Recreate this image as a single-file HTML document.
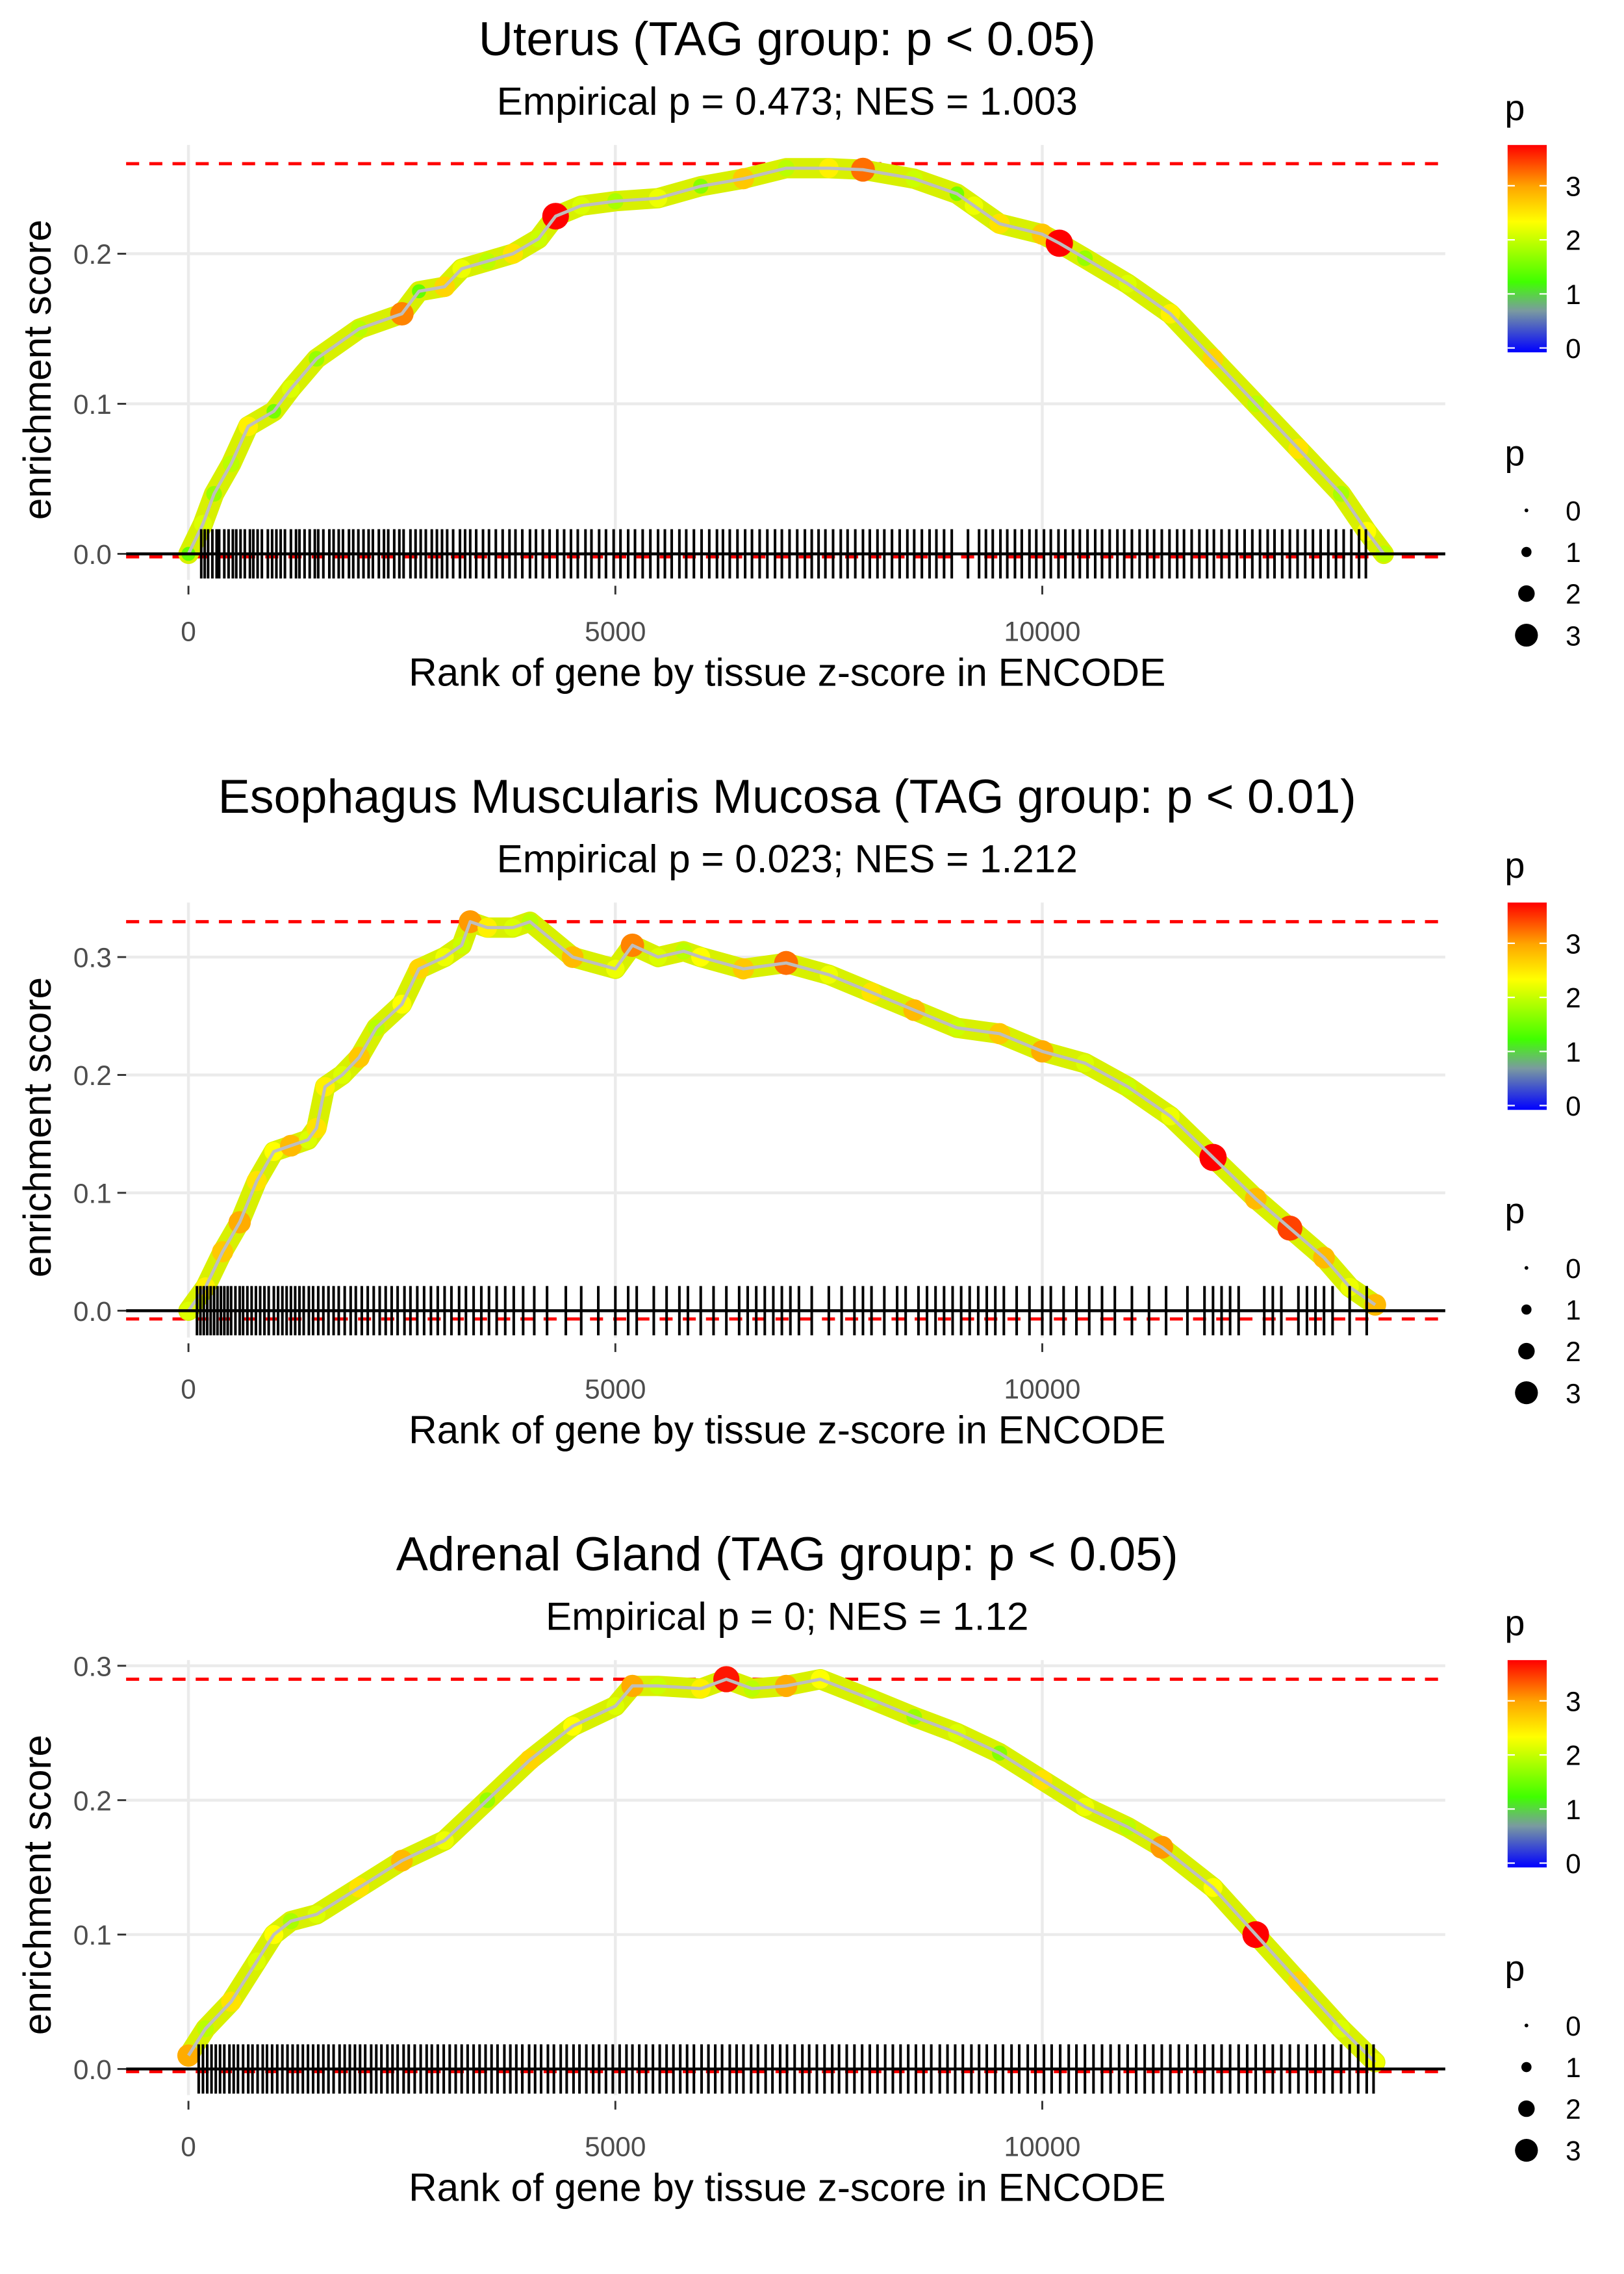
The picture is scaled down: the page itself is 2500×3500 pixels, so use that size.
<!DOCTYPE html>
<html><head><meta charset="utf-8">
<style>
html,body{margin:0;padding:0;background:#fff;}
svg{display:block;font-family:"Liberation Sans",sans-serif;}
</style></head>
<body>
<svg id="chart" width="2500" height="3500" viewBox="0 0 1120.3 1568.4" xmlns="http://www.w3.org/2000/svg">
<defs>
<linearGradient id="pgrad" x1="0" y1="1" x2="0" y2="0">
<stop offset="0" stop-color="#0000ff"/>
<stop offset="0.2" stop-color="#7a9aa0"/>
<stop offset="0.34" stop-color="#40ff00"/>
<stop offset="0.63" stop-color="#ffff00"/>
<stop offset="0.8" stop-color="#ffa500"/>
<stop offset="1" stop-color="#ff0000"/>
</linearGradient>
</defs>
</svg>
<script>
// ---------- data ----------
const titles = ["Uterus (TAG group: p < 0.05)","Esophagus Muscularis Mucosa (TAG group: p < 0.01)","Adrenal Gland (TAG group: p < 0.05)"];
const subtitles = ["Empirical p = 0.473; NES = 1.003","Empirical p = 0.023; NES = 1.212","Empirical p = 0; NES = 1.12"];
const xTicks = [0,5000,10000];
const yTicks1 = [0,0.1,0.2];
const yTicks2 = [0,0.1,0.2,0.3];
const yTicks3 = [0,0.1,0.2,0.3];
const esMax = [0.26,0.33,0.29];
const esMin = [-0.002,-0.007,-0.002];

const rank1 = [0,170,300,500,700,1000,1200,1500,2000,2500,2700,3000,3200,3500,3800,4100,4300,4600,5000,5500,6000,6500,7000,7500,7900,8500,9000,9200,9500,10000,10200,10500,11000,11500,12000,12500,13000,13500,13800,14000];
const es1   = [0,0.02,0.04,0.06,0.085,0.095,0.11,0.13,0.15,0.16,0.175,0.178,0.19,0.195,0.2,0.21,0.225,0.232,0.235,0.237,0.245,0.25,0.257,0.257,0.256,0.25,0.24,0.232,0.22,0.213,0.207,0.197,0.18,0.16,0.13,0.1,0.07,0.04,0.015,0];
const p1    = [1.5,2.2,1.8,2.0,2.5,1.6,2.2,1.8,2.0,3.2,1.5,2.7,2.3,2.0,2.6,2.1,3.8,2.2,1.9,2.3,1.7,2.8,2.0,2.5,3.3,2.1,1.6,2.3,2.6,2.8,3.9,1.8,2.2,2.5,2.7,2.0,2.6,1.9,2.4,2.0];

const rank2 = [0,200,400,600,800,1000,1200,1400,1500,1600,1800,2000,2200,2500,2700,3000,3200,3300,3500,3800,4000,4500,5000,5200,5500,5800,6000,6500,7000,7500,8000,8500,9000,9500,10000,10500,11000,11500,12000,12500,12900,13300,13600,13900];
const es2   = [0,0.02,0.05,0.075,0.11,0.135,0.14,0.145,0.155,0.19,0.2,0.215,0.24,0.26,0.29,0.3,0.31,0.33,0.325,0.325,0.33,0.3,0.29,0.31,0.3,0.305,0.3,0.29,0.295,0.285,0.27,0.255,0.24,0.235,0.22,0.21,0.19,0.165,0.13,0.095,0.07,0.045,0.02,0.005];
const p2    = [2.2,2.5,2.8,3.0,2.6,2.4,2.9,2.2,2.6,2.5,2.2,2.8,2.0,2.4,2.7,2.3,2.1,3.1,2.5,2.2,2.0,2.9,2.3,3.2,2.2,2.0,2.4,2.8,3.3,2.3,2.6,2.9,2.1,2.8,3.0,2.2,2.1,2.3,3.9,2.9,3.5,2.9,2.3,2.9];

const rank3 = [0,200,500,800,1000,1200,1500,2000,2500,3000,3500,4000,4500,5000,5200,5500,6000,6300,6600,7000,7400,8000,8500,9000,9500,10000,10500,11000,11400,12000,12500,13000,13500,13900];
const es3   = [0.01,0.03,0.05,0.08,0.1,0.11,0.115,0.135,0.155,0.17,0.2,0.23,0.255,0.27,0.285,0.285,0.283,0.29,0.283,0.285,0.29,0.275,0.262,0.25,0.235,0.215,0.195,0.18,0.165,0.135,0.1,0.065,0.03,0.005];
const p3    = [3.0,2.0,2.6,2.2,2.4,1.9,2.2,2.6,2.9,2.3,1.8,2.7,2.4,2.2,3.0,2.1,2.5,3.7,2.0,3.0,2.4,2.1,1.8,2.2,1.7,2.6,2.3,2.0,3.1,2.4,3.8,2.7,2.2,2.3];

const hits1 = [150,190,230,280,330,360,420,470,520,560,610,660,720,760,810,860,930,980,1030,1080,1130,1200,1260,1300,1360,1420,1480,1520,1580,1650,1700,1760,1810,1880,1930,1990,2050,2110,2160,2230,2290,2340,2410,2470,2520,2600,2660,2720,2780,2850,2910,2970,3030,3100,3180,3240,3300,3370,3450,3520,3600,3680,3760,3830,3910,4000,4070,4150,4230,4320,4400,4480,4560,4650,4720,4810,4890,4980,5060,5150,5230,5320,5410,5500,5580,5660,5750,5830,5920,6010,6100,6190,6260,6340,6430,6520,6600,6690,6780,6870,6950,7040,7130,7220,7300,7380,7460,7550,7640,7720,7810,7900,7980,8070,8150,8240,8330,8420,8500,8590,8680,8760,8850,8940,9130,9260,9340,9420,9510,9590,9680,9760,9850,9930,10020,10100,10190,10270,10360,10440,10530,10620,10700,10790,10880,10960,11050,11140,11230,11310,11400,11490,11580,11660,11750,11840,11930,12010,12100,12190,12280,12370,12460,12550,12640,12720,12810,12900,12990,13080,13170,13260,13350,13440,13530,13620,13710,13790];
const hits2 = [100,140,180,220,260,300,340,380,420,460,500,550,600,640,690,740,790,840,890,940,1000,1050,1100,1150,1200,1250,1300,1350,1410,1460,1520,1580,1640,1700,1760,1830,1900,1960,2030,2100,2170,2240,2310,2380,2450,2530,2600,2680,2760,2840,2920,3000,3080,3170,3250,3340,3430,3520,3610,3710,3810,3920,4050,4200,4420,4600,4800,5000,5150,5250,5450,5600,5750,5850,6000,6150,6300,6450,6550,6650,6750,6850,6950,7050,7150,7300,7500,7650,7800,7900,8000,8150,8300,8400,8550,8650,8750,8850,8950,9050,9150,9250,9350,9450,9550,9700,9850,10000,10100,10250,10400,10550,10700,10850,11050,11250,11450,11700,11900,12000,12100,12200,12300,12600,12700,12800,13000,13100,13200,13300,13400,13600,13800];
const hits3 = [120,170,220,270,320,370,420,480,530,580,640,700,750,810,870,920,980,1040,1100,1160,1220,1280,1340,1400,1460,1520,1580,1640,1700,1770,1830,1890,1950,2010,2070,2140,2200,2260,2330,2390,2450,2520,2580,2650,2720,2790,2850,2920,2990,3060,3130,3200,3270,3340,3410,3480,3550,3620,3700,3770,3840,3910,3990,4060,4130,4210,4280,4360,4430,4510,4580,4660,4740,4810,4890,4970,5050,5130,5200,5280,5360,5440,5520,5600,5680,5760,5840,5920,6010,6090,6170,6250,6340,6420,6500,6590,6670,6760,6840,6930,7010,7100,7190,7270,7360,7450,7540,7620,7710,7800,7890,7980,8070,8160,8250,8340,8430,8520,8610,8700,8800,8890,8980,9070,9170,9260,9350,9450,9540,9640,9730,9830,9920,10020,10110,10210,10310,10400,10500,10600,10700,10800,10900,11000,11100,11200,11300,11400,11500,11600,11700,11800,11900,12000,12100,12200,12300,12400,12500,12600,12700,12800,12900,13000,13100,13200,13300,13400,13500,13600,13700,13800,13880];

const sizeLegend = [0,1,2,3];
const colorLegend = [0,1,2,3];

// ---------- drawing ----------
const NS = "http://www.w3.org/2000/svg";
const svg = document.getElementById("chart");
function mk(tag, attrs, parent){
  const e = document.createElementNS(NS, tag);
  for (const k in attrs) e.setAttribute(k, attrs[k]);
  (parent||svg).appendChild(e);
  return e;
}
function pColor(p){
  const stops=[[0,[0,0,255]],[0.75,[122,154,160]],[1.3,[64,255,0]],[2.4,[255,255,0]],[3.05,[255,165,0]],[3.8,[255,0,0]]];
  p=Math.max(0,Math.min(3.8,p));
  for(let i=1;i<stops.length;i++){
    if(p<=stops[i][0]){
      const a=stops[i-1],b=stops[i],t=(p-a[0])/(b[0]-a[0]);
      const c=a[1].map((v,j)=>Math.round(v+(b[1][j]-v)*t));
      return "rgb("+c.join(",")+")";
    }
  }
  return "rgb(255,0,0)";
}
function pRadius(p){ return 2+1.9*p; }

const panels = [
 {dy:0, y0:382, k:103.5, yt:yTicks1, r:rank1, e:es1, p:p1, h:hits1},
 {dy:522.5, y0:904, k:81.3, yt:yTicks2, r:rank2, e:es2, p:p2, h:hits2},
 {dy:1045, y0:1427, k:92.7, yt:yTicks3, r:rank3, e:es3, p:p3, h:hits3}
];
const xScale = r => 130 + r/5000*294.5;

panels.forEach((P,i)=>{
  const g = mk("g",{});
  
  
  const yS = v => P.y0 - v*P.k*10;
  const top = 100+P.dy, bot = 400+P.dy;

  const t = mk("text",{x:543,y:38+P.dy,"text-anchor":"middle","font-size":"33",fill:"#000"},g);
  t.textContent = titles[i];
  
  
  const st = mk("text",{x:543,y:79+P.dy,"text-anchor":"middle","font-size":"27",fill:"#000"},g);
  st.textContent = subtitles[i];
  
  

  P.yt.forEach(v=>{
    const l=mk("line",{x1:87,x2:997,y1:yS(v),y2:yS(v),stroke:"#ebebeb","stroke-width":2},g);
    
    
    const tk=mk("line",{x1:81,x2:87,y1:yS(v),y2:yS(v),stroke:"#333","stroke-width":1.3},g);
    
    
    const tl=mk("text",{x:77,y:yS(v)+7,"text-anchor":"end","font-size":"19",fill:"#4d4d4d"},g);
    tl.textContent=v.toFixed(1);
    
    
  });
  xTicks.forEach(v=>{
    const l=mk("line",{x1:xScale(v),x2:xScale(v),y1:top,y2:bot,stroke:"#ebebeb","stroke-width":2},g);
    
    
    const tk=mk("line",{x1:xScale(v),x2:xScale(v),y1:bot+4,y2:bot+10,stroke:"#333","stroke-width":1.3},g);
    
    
    const tl=mk("text",{x:xScale(v),y:bot+42,"text-anchor":"middle","font-size":"19",fill:"#4d4d4d"},g);
    tl.textContent=String(v);
    
    
  });

  [esMax[i],esMin[i]].forEach((v,j)=>{
    const l=mk("line",{x1:87,x2:997,y1:yS(v),y2:yS(v),stroke:"#ff0000","stroke-width":2.2,"stroke-dasharray":"9 7"},g);
    
    
  });

  const pts = P.r.map((r,j)=>xScale(r)+","+yS(P.e[j])).join(" ");
  const band=mk("polyline",{points:pts,fill:"none",stroke:"#d8f000","stroke-width":14,"stroke-linejoin":"round","stroke-linecap":"round"},g);
  
  
  P.r.forEach((r,j)=>{
    const c=mk("circle",{cx:xScale(r),cy:yS(P.e[j]),r:pRadius(P.p[j]),fill:pColor(P.p[j])},g);
    
    
  });
  const line=mk("polyline",{points:pts,fill:"none",stroke:"#bebebe","stroke-width":2.2,"stroke-linejoin":"round"},g);
  
  

  const rug = mk("g",{},g);
  
  
  P.h.forEach(h=>{
    const l=mk("line",{x1:xScale(h),x2:xScale(h),y1:P.y0-17,y2:P.y0+17,stroke:"#000","stroke-width":1.8},rug);
    
    
  });
  const zl=mk("line",{x1:87,x2:997,y1:P.y0,y2:P.y0,stroke:"#000","stroke-width":2},g);
  
  

  const xt=mk("text",{x:543,y:473+P.dy,"text-anchor":"middle","font-size":"27",fill:"#000"},g);
  xt.textContent="Rank of gene by tissue z-score in ENCODE";
  
  
  const yc=255+P.dy;
  const yt=mk("text",{x:35,y:yc,"text-anchor":"middle","font-size":"27",fill:"#000",transform:"rotate(-90 35 "+yc+")"},g);
  yt.textContent="enrichment score";
  
  

  const lg = mk("g",{},g);
  
  
  const lt=mk("text",{x:1038,y:83+P.dy,"font-size":"25",fill:"#000"},lg);
  lt.textContent="p";
  
  
  const bar=mk("rect",{x:1040,y:100+P.dy,width:27,height:143,fill:"url(#pgrad)"},lg);
  
  
  colorLegend.forEach(v=>{
    const yy=240+P.dy - v*37.3;
    mk("line",{x1:1040,x2:1045,y1:yy,y2:yy,stroke:"#fff","stroke-width":1},lg);
    mk("line",{x1:1062,x2:1067,y1:yy,y2:yy,stroke:"#fff","stroke-width":1},lg);
    const tl=mk("text",{x:1080,y:yy+7,"font-size":"19",fill:"#000"},lg);
    tl.textContent=String(v);
    
    
  });
  const sg = mk("g",{},g);
  
  
  const s2=mk("text",{x:1038,y:321+P.dy,"font-size":"25",fill:"#000"},sg);
  s2.textContent="p";
  
  
  sizeLegend.forEach((v,j)=>{
    const yy=352+P.dy+j*28.7;
    const c=mk("circle",{cx:1053,cy:yy,r:1.3+2.2*v,fill:"#000"},sg);
    
    
    const tl=mk("text",{x:1080,y:yy+7,"font-size":"19",fill:"#000"},sg);
    tl.textContent=String(v);
    
    
  });
});
</script>
</body></html>
